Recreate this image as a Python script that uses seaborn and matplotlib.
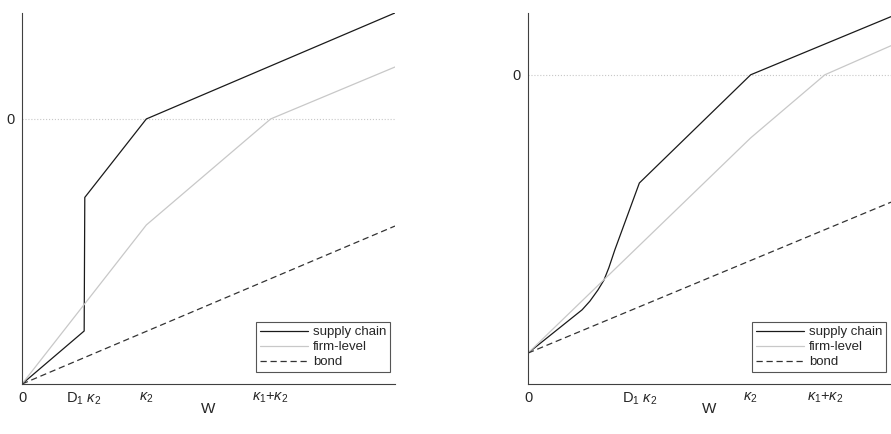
import numpy as np
import pandas as pd
import seaborn as sns
import matplotlib.pyplot as plt

# left panel (x in units of kappa_2, D1 = 0.5, kappa_1 = kappa_2)
left_sc_x = [0, 0.5, 0.505, 1, 3]
left_sc_y = [-2.5, -2.0, -0.74, 0, 1.0]
left_fl_x = [0, 1, 2, 3]
left_fl_y = [-2.5, -1.0, 0, 0.49]
left_bd_x = [0, 3]
left_bd_y = [-2.5, -1.01]
left_ticks = [0, 0.5, 1, 2]

# right panel (D1 = 0.5, kappa_1 = kappa_2 / 3)
right_sc_x = [0, 0.243, 0.278, 0.314, 0.341, 0.363, 0.39, 0.5, 1, 1.63]
right_sc_y = [-4.5, -3.80, -3.66, -3.48, -3.32, -3.12, -2.83, -1.75, 0, 0.94]
right_fl_x = [0, 1, 1.333, 1.63]
right_fl_y = [-4.5, -1.02, 0, 0.47]
right_bd_x = [0, 1.63]
right_bd_y = [-4.5, -2.06]
right_ticks = [0, 0.5, 1, 1.333]

tick_labels = ['0', r'D$_{1}$ $\kappa_{2}$', r'$\kappa_{2}$', r'$\kappa_{1}$+$\kappa_{2}$']

sns.set_style('white')
plt.rcParams['font.family'] = ['Liberation Sans', 'DejaVu Sans']
plt.rcParams['mathtext.fontset'] = 'custom'
plt.rcParams['mathtext.rm'] = 'Liberation Sans'
plt.rcParams['mathtext.it'] = 'Liberation Sans:italic'

fig = plt.figure(figsize=(8.91, 4.34), dpi=100)
ax1 = fig.add_axes([0.0247, 0.1152, 0.4186, 0.855])
ax2 = fig.add_axes([0.5926, 0.1152, 0.4074, 0.855])

dark = '#262626'
panels = [
    (ax1, left_sc_x, left_sc_y, left_fl_x, left_fl_y, left_bd_x, left_bd_y,
     left_ticks, (0, 3), (-2.5, 1)),
    (ax2, right_sc_x, right_sc_y, right_fl_x, right_fl_y, right_bd_x, right_bd_y,
     right_ticks, (0, 1.63), (-5, 1)),
]

for ax, sx, sy, fx, fy, bx, by, ticks, xl, yl in panels:
    ax.axhline(0, color='#c8c8c8', linestyle=':', linewidth=0.8, zorder=0)
    sns.lineplot(x=sx, y=sy, ax=ax, color='#1a1a1a', linewidth=0.9,
                 label='supply chain', sort=False)
    sns.lineplot(x=fx, y=fy, ax=ax, color='#c8c8c8', linewidth=0.9,
                 label='firm-level', sort=False)
    sns.lineplot(x=bx, y=by, ax=ax, color='#333333', linewidth=0.9,
                 linestyle=(0, (5, 3)), label='bond', sort=False)
    ax.set_xlim(*xl)
    ax.set_ylim(*yl)
    ax.set_xticks(ticks)
    ax.set_xticklabels(tick_labels)
    ax.set_yticks([0])
    ax.set_yticklabels(['0'])
    ax.tick_params(direction='in', length=3, width=0.6, colors=dark,
                   labelsize=10.5, pad=5)
    for s in ['top', 'right']:
        ax.spines[s].set_visible(False)
    for s in ['left', 'bottom']:
        ax.spines[s].set_color('#404040')
        ax.spines[s].set_linewidth(0.8)
    ax.set_xlabel('W', fontsize=11, color=dark, labelpad=-4)
    ax.set_ylabel('')
    leg = ax.legend(loc='lower right', bbox_to_anchor=(0.987, 0.032),
                    borderaxespad=0, fancybox=False, framealpha=1,
                    edgecolor='#555555', fontsize=9.5, handlelength=3.6,
                    handletextpad=0.4, labelspacing=0.2, borderpad=0.3)
    leg.get_frame().set_linewidth(0.8)

fig.savefig('out.png', dpi=100)
